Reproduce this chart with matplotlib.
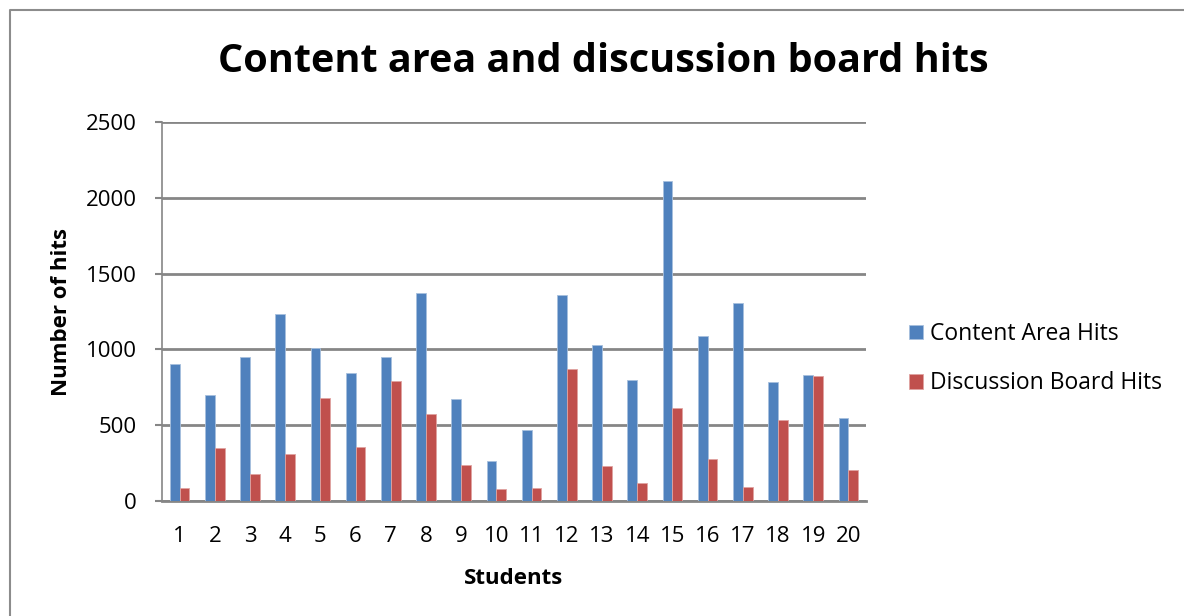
import numpy as np
import matplotlib
matplotlib.use("Agg")
import matplotlib.pyplot as plt
from matplotlib.lines import Line2D

# --- data ---
students = [str(i) for i in range(1, 21)]
content_hits = [905, 702, 950, 1234, 1010, 847, 953, 1375, 675, 264,
                466, 1360, 1030, 799, 2112, 1089, 1309, 785, 829, 550]
discussion_hits = [86, 350, 178, 308, 680, 359, 794, 576, 238, 79,
                   88, 873, 233, 119, 616, 279, 92, 537, 825, 207]
series_names = ["Content Area Hits", "Discussion Board Hits"]
y_ticks = [0, 500, 1000, 1500, 2000, 2500]

plt.rcParams['font.family'] = ['Open Sans', 'DejaVu Sans']

W, H = 1184, 616
fig = plt.figure(figsize=(W / 100, H / 100), dpi=100)

# outer chart frame (only left and top edges are inside the picture)
fig.lines.append(Line2D([10 / W, 10 / W, 1.0], [0.0, 1 - 10 / H, 1 - 10 / H],
                        transform=fig.transFigure, color="#8c8c8c", linewidth=1.5))

ax = fig.add_axes([162 / W, 1 - 501 / H, (866 - 162) / W, (501 - 122) / H])

x = np.arange(len(students))
bw = 0.28
ax.bar(x - bw / 2, content_hits, bw, color="#4f81bd", label=series_names[0],
       edgecolor="#a7c0de", linewidth=0.6, zorder=3)
ax.bar(x + bw / 2, discussion_hits, bw, color="#c0504d", label=series_names[1],
       edgecolor="#e0a3a1", linewidth=0.6, zorder=3)

ax.set_xlim(-0.5, len(students) - 0.5)
ax.set_ylim(0, 2500)
ax.set_yticks(y_ticks)
ax.set_xticks(x)
ax.set_xticklabels(students)
ax.grid(axis="y", color="#868686", linewidth=2, zorder=0)
ax.tick_params(axis="y", length=5, width=1.5, color="#868686", labelsize=16, pad=13)
ax.tick_params(axis="x", length=0, labelsize=16, pad=18)

for side in ["top", "right"]:
    ax.spines[side].set_visible(False)
ax.spines["left"].set_color("#868686")
ax.spines["left"].set_linewidth(1.2)
ax.spines["bottom"].set_color("#868686")
ax.spines["bottom"].set_linewidth(2)

ax.set_ylabel("Number of hits", fontsize=16, fontweight="bold", labelpad=10)
ax.set_xlabel("Students", fontsize=16, fontweight="bold", labelpad=15)

fig.text(603 / W, 1 - 62 / H, "Content area and discussion board hits",
         ha="center", va="center", fontsize=28.5, fontweight="bold")

ax.legend(loc="center left", bbox_to_anchor=(1.061, 0.375), frameon=False,
          fontsize=16.5, handlelength=0.6, handleheight=0.6, handletextpad=0.3,
          labelspacing=1.1, borderpad=0, borderaxespad=0)

fig.savefig("out.png", dpi=100)
